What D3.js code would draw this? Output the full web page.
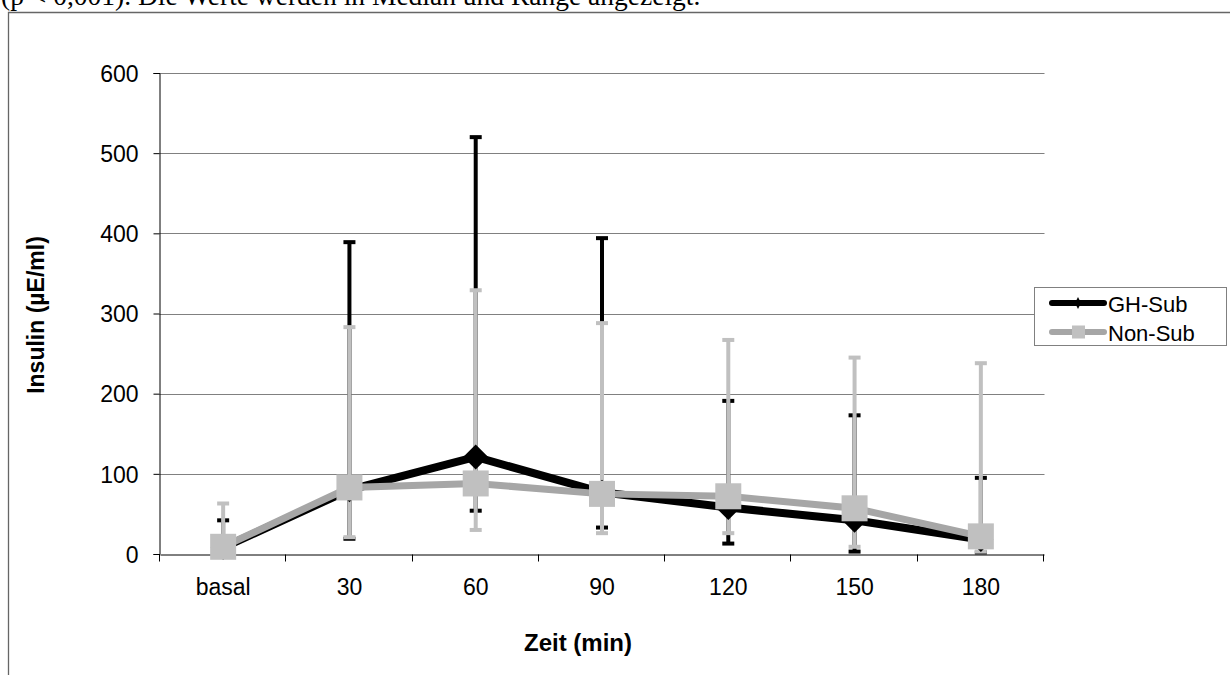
<!DOCTYPE html>
<html>
<head>
<meta charset="utf-8">
<script src="https://cdn.jsdelivr.net/npm/d3@7"></script>
<style>
  body { margin: 0; background: #fff; }
</style>
</head>
<body>
<div id="chart"></div>
<script>
const width = 1230;
const height = 675;

// --- data (median and range) ---
const categories = ["basal", "30", "60", "90", "120", "150", "180"];
const yTicks = [0, 100, 200, 300, 400, 500, 600];

const ghMedian = [8, 80, 121, 77, 58, 42, 18];
const ghMin = [2, 19, 54, 33, 13, 3, 2];
const ghMax = [42, 389, 520, 394, 191, 173, 95];

const nonMedian = [9, 83, 88, 75, 72, 57, 22];
const nonMin = [3, 21, 30, 26, 26, 9, 3];
const nonMax = [63, 283, 329, 288, 267, 245, 238];

const seriesNames = ["GH-Sub", "Non-Sub"];

const series = [
    { name: seriesNames[0], median: ghMedian, min: ghMin, max: ghMax,
      line: "#000", marker: "#000", bar: "#000", shape: "diamond" },
    { name: seriesNames[1], median: nonMedian, min: nonMin, max: nonMax,
      line: "#a6a6a6", marker: "#c0c0c0", bar: "#c0c0c0", shape: "square" }
];

const svg = d3.select("#chart")
    .append("svg")
    .attr("width", width)
    .attr("height", height)
    .style("font-family", "'Liberation Sans', Arial, sans-serif");

// caption text cut at the top of the page (as in the source document)
svg.append("text")
    .attr("x", 1)
    .attr("y", 5)
    .style("font-family", "'Liberation Serif', 'Times New Roman', serif")
    .style("font-size", "27.5px")
    .text("(p < 0,001). Die Werte werden in Median und Range angezeigt.");

// outer chart frame
svg.append("path")
    .attr("d", `M8.5,${height}V12.5H${width}`)
    .attr("fill", "none")
    .attr("stroke", "#666")
    .attr("stroke-width", 1.3);

// --- scales ---
const x = d3.scaleBand()
    .domain(categories)
    .range([160, 1044]);

const y = d3.scaleLinear()
    .domain([0, 600])
    .range([554, 73]);

const cx = c => x(c) + x.bandwidth() / 2;

// gridlines
svg.append("g")
    .selectAll("line")
    .data(yTicks.filter(d => d > 0))
    .enter()
    .append("line")
    .attr("x1", 159.5)
    .attr("x2", 1044.5)
    .attr("y1", d => Math.round(y(d)) + 0.5)
    .attr("y2", d => Math.round(y(d)) + 0.5)
    .attr("stroke", "#808080")
    .attr("stroke-width", 1);

// --- axes ---
const yAxis = svg.append("g")
    .attr("transform", "translate(159.5,0)")
    .call(d3.axisLeft(y).tickValues(yTicks).tickSize(6).tickPadding(15));

const xAxis = svg.append("g")
    .attr("transform", "translate(0,554.5)")
    .call(d3.axisBottom(x).tickSize(0).tickPadding(24));

[yAxis, xAxis].forEach(g => {
    g.select(".domain").attr("stroke", "#000");
    g.selectAll("text")
        .style("font-size", "23px")
        .style("font-family", "'Liberation Sans', Arial, sans-serif")
        .attr("fill", "#000");
});
yAxis.selectAll("line").attr("stroke", "#000");
yAxis.selectAll("text").attr("dy", "0.36em");

// category boundary ticks on the x axis
xAxis.selectAll(".bound")
    .data(d3.range(categories.length + 1))
    .enter()
    .append("line")
    .attr("class", "bound")
    .attr("x1", i => Math.round(160 + i * x.step()) - 0.5)
    .attr("x2", i => Math.round(160 + i * x.step()) - 0.5)
    .attr("y1", 0)
    .attr("y2", 7)
    .attr("stroke", "#000");

// axis titles
svg.append("text")
    .attr("transform", "translate(44,315) rotate(-90)")
    .attr("text-anchor", "middle")
    .style("font-size", "23px")
    .style("font-weight", "bold")
    .text("Insulin (µE/ml)");

svg.append("text")
    .attr("x", 578)
    .attr("y", 651)
    .attr("text-anchor", "middle")
    .style("font-size", "24px")
    .style("font-weight", "bold")
    .text("Zeit (min)");

// --- error bars (range) ---
const capW = 12;
series.forEach(s => {
    const g = svg.append("g");
    categories.forEach((c, i) => {
        g.append("line")
            .attr("x1", cx(c)).attr("x2", cx(c))
            .attr("y1", y(s.min[i])).attr("y2", y(s.max[i]))
            .attr("stroke", s.bar)
            .attr("stroke-width", 4);
        [s.min[i], s.max[i]].forEach(v => {
            g.append("rect")
                .attr("x", cx(c) - capW / 2)
                .attr("y", y(v) - 2)
                .attr("width", capW)
                .attr("height", 4)
                .attr("fill", s.bar);
        });
    });
});

// --- lines and markers ---
const line = d3.line()
    .x((d, i) => cx(categories[i]))
    .y(d => y(d));

const diamond = r => `M0,${-r}L${r},0L0,${r}L${-r},0Z`;

series.forEach(s => {
    svg.append("path")
        .datum(s.median)
        .attr("d", line)
        .attr("fill", "none")
        .attr("stroke", s.line)
        .attr("stroke-width", s.shape === "diamond" ? 8 : 7)
        .attr("stroke-linejoin", "miter");

    const m = svg.append("g")
        .selectAll("g")
        .data(s.median)
        .enter()
        .append("g")
        .attr("transform", (d, i) => `translate(${cx(categories[i])},${y(d)})`);

    if (s.shape === "diamond") {
        m.append("path").attr("d", diamond(12.5)).attr("fill", s.marker);
    } else {
        m.append("rect")
            .attr("x", -13).attr("y", -13)
            .attr("width", 26).attr("height", 26)
            .attr("fill", s.marker);
    }
});

// --- legend ---
const legend = svg.append("g");

legend.append("rect")
    .attr("x", 1034.5)
    .attr("y", 287.5)
    .attr("width", 192)
    .attr("height", 58)
    .attr("fill", "#fff")
    .attr("stroke", "#808080");

const item = legend.selectAll(".item")
    .data(series)
    .enter()
    .append("g")
    .attr("class", "item")
    .attr("transform", (d, i) => `translate(0,${303 + i * 29})`);

item.append("line")
    .attr("x1", 1052).attr("x2", 1104)
    .attr("y1", 0).attr("y2", 0)
    .attr("stroke", d => d.line)
    .attr("stroke-width", 6)
    .attr("stroke-linecap", "round");

item.each(function(d) {
    const g = d3.select(this);
    if (d.shape === "diamond") {
        g.append("path")
            .attr("d", "M1078,-6L1081,0L1078,6L1075,0Z")
            .attr("fill", d.marker);
    } else {
        g.append("rect")
            .attr("x", 1072).attr("y", -6.5)
            .attr("width", 13).attr("height", 13)
            .attr("fill", d.marker);
    }
});

item.append("text")
    .attr("x", 1108)
    .attr("y", 9)
    .style("font-size", "22px")
    .text(d => d.name);
</script>
</body>
</html>
